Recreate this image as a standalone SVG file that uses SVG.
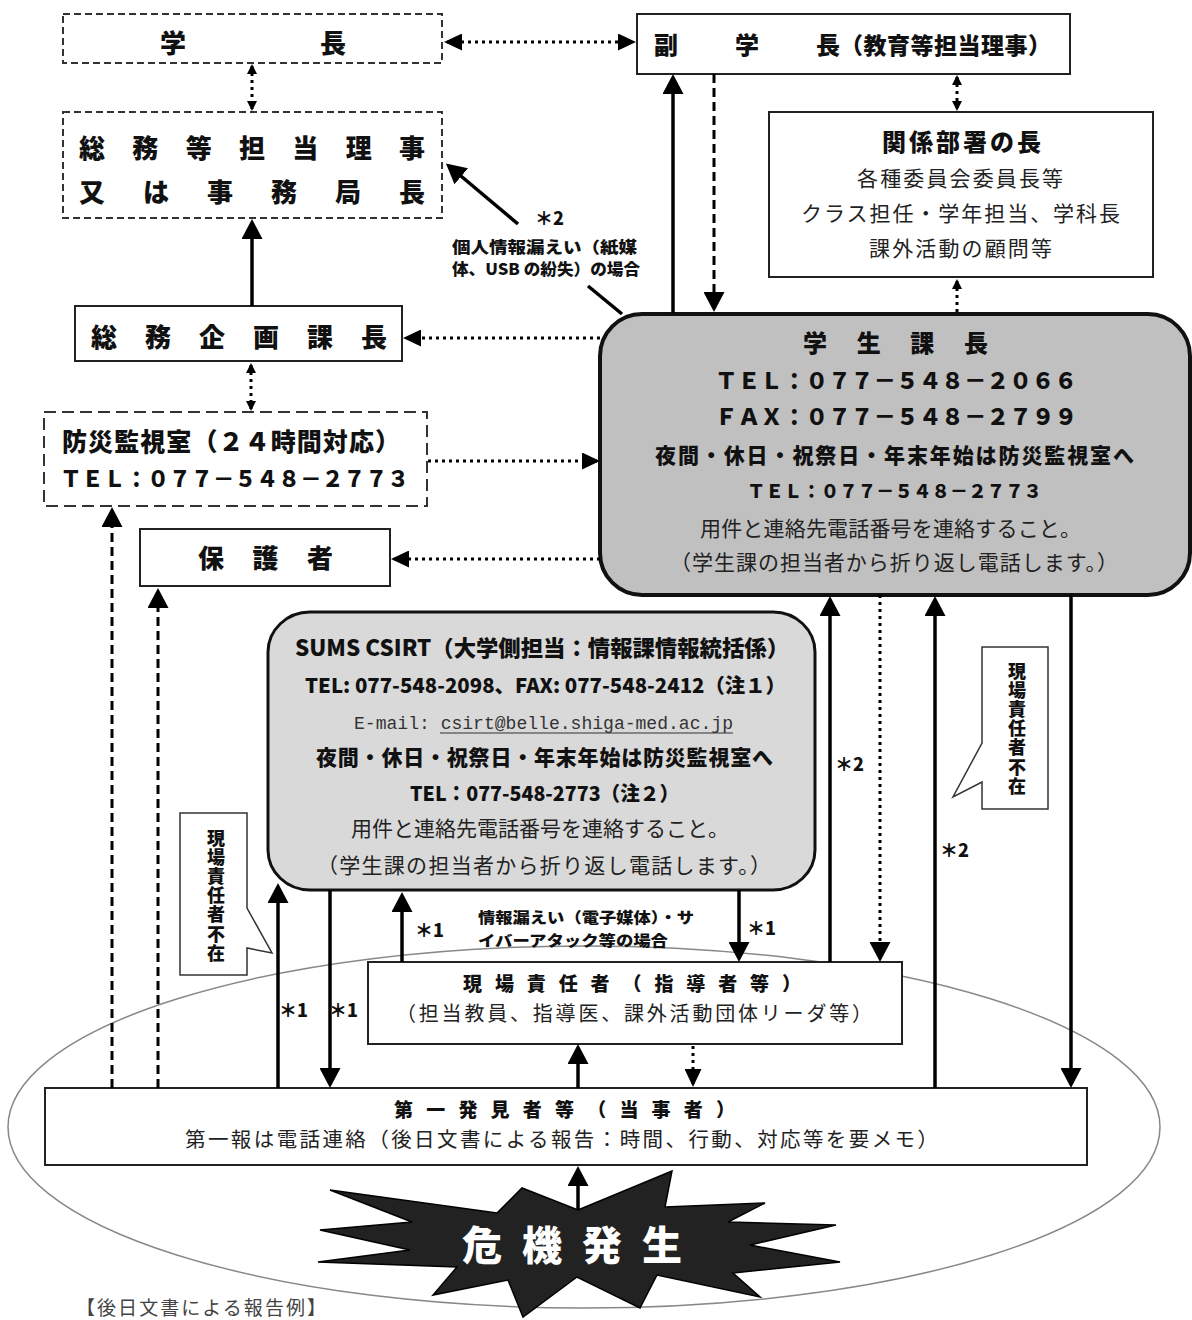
<svg xmlns="http://www.w3.org/2000/svg" width="1192" height="1320" viewBox="0 0 1192 1320">
<defs>
<style>
.b{font-family:"Noto Sans CJK JP","Noto Sans CJK SC",sans-serif;font-weight:900;fill:#111}
.r{font-family:"Noto Sans CJK JP","Noto Sans CJK SC",sans-serif;font-weight:400;fill:#222}
.m{font-family:"Liberation Mono",monospace;fill:#333}
.v{writing-mode:vertical-rl;font-family:"Noto Sans CJK JP","Noto Sans CJK SC",sans-serif;font-weight:900;fill:#111}
.box{fill:#fff;stroke:#222;stroke-width:2}
.dbox{fill:#fff;stroke:#333;stroke-width:2;stroke-dasharray:7 4}
.ln{stroke:#000;stroke-width:3.5;fill:none}
.dot{stroke:#000;stroke-width:3;stroke-dasharray:3 4;fill:none}
.dash{stroke:#000;stroke-width:3;stroke-dasharray:9 5;fill:none}
.call{fill:#fff;stroke:#333;stroke-width:1.5}
</style>
<marker id="al" viewBox="0 0 20 21" refX="16" refY="10.5" markerWidth="20" markerHeight="21" markerUnits="userSpaceOnUse" orient="auto-start-reverse"><path d="M0,0 L20,10.5 L0,21 Z" fill="#000"/></marker>
<marker id="am" viewBox="0 0 18 17" refX="15" refY="8.5" markerWidth="18" markerHeight="17" markerUnits="userSpaceOnUse" orient="auto-start-reverse"><path d="M0,0 L18,8.5 L0,17 Z" fill="#000"/></marker>
<marker id="as" viewBox="0 0 10 10" refX="8" refY="5" markerWidth="10" markerHeight="10" markerUnits="userSpaceOnUse" orient="auto-start-reverse"><path d="M0,0 L10,5 L0,10 Z" fill="#000"/></marker>
</defs>
<rect width="1192" height="1320" fill="#fff"/>

<g id="ellipse">
<ellipse cx="584" cy="1127" rx="576" ry="181" fill="none" stroke="#888" stroke-width="1.5"/>
</g>

<g id="gakucho">
<rect class="dbox" x="63" y="14" width="379" height="49"/>
<text class="b" x="160" y="53" font-size="26" textLength="186" lengthAdjust="spacing">学長</text>
</g>

<g id="fukugakucho">
<rect class="box" x="637" y="14" width="433" height="60"/>
<text class="b" x="654" y="54" font-size="24" textLength="186" lengthAdjust="spacing">副学長</text>
<text class="b" x="840" y="54" font-size="23" textLength="211" lengthAdjust="spacing">（教育等担当理事）</text>
</g>

<g id="somu-riji">
<rect class="dbox" x="63" y="112" width="379" height="106"/>
<text class="b" x="79" y="158" font-size="26" textLength="346" lengthAdjust="spacing">総務等担当理事</text>
<text class="b" x="79" y="202" font-size="26" textLength="346" lengthAdjust="spacing">又は事務局長</text>
</g>

<g id="kankei">
<rect class="box" x="769" y="112" width="384" height="165"/>
<text class="b" x="882" y="151" font-size="24" textLength="159" lengthAdjust="spacing">関係部署の長</text>
<text class="r" x="857" y="186" font-size="21" textLength="206" lengthAdjust="spacing">各種委員会委員長等</text>
<text class="r" x="801" y="221" font-size="21" textLength="319" lengthAdjust="spacing">クラス担任・学年担当、学科長</text>
<text class="r" x="869" y="256" font-size="21" textLength="183" lengthAdjust="spacing">課外活動の顧問等</text>
</g>

<g id="somukikaku">
<rect class="box" x="75" y="306" width="327" height="55"/>
<text class="b" x="91" y="347" font-size="26" textLength="296" lengthAdjust="spacing">総務企画課長</text>
</g>

<g id="gakusei">
<rect x="600" y="314" width="590" height="281" rx="42" ry="42" fill="#c0c0c0" stroke="#111" stroke-width="4"/>
<text class="b" x="803" y="352" font-size="24" textLength="185" lengthAdjust="spacing">学生課長</text>
<text class="b" x="715" y="389" font-size="22.6" textLength="362" lengthAdjust="spacing">ＴＥＬ：０７７－５４８－２０６６</text>
<text class="b" x="715" y="425" font-size="22.6" textLength="362" lengthAdjust="spacing">ＦＡＸ：０７７－５４８－２７９９</text>
<text class="b" x="655" y="463" font-size="21" textLength="479" lengthAdjust="spacing">夜間・休日・祝祭日・年末年始は防災監視室へ</text>
<text class="b" x="747" y="498" font-size="18.4" textLength="295" lengthAdjust="spacing">ＴＥＬ：０７７－５４８－２７７３</text>
<text class="r" x="700" y="536" font-size="21" textLength="381" lengthAdjust="spacing">用件と連絡先電話番号を連絡すること。</text>
<text class="r" x="670" y="570" font-size="21" textLength="448" lengthAdjust="spacing">（学生課の担当者から折り返し電話します。）</text>
</g>

<g id="bosai">
<rect x="44" y="412" width="383" height="94" fill="#fff" stroke="#333" stroke-width="2" stroke-dasharray="12 6"/>
<text class="b" x="62" y="451" font-size="25" textLength="338" lengthAdjust="spacing">防災監視室（２４時間対応）</text>
<text class="b" x="60" y="487" font-size="21.8" textLength="349" lengthAdjust="spacing">ＴＥＬ：０７７－５４８－２７７３</text>
</g>

<g id="hogosha">
<rect class="box" x="140" y="529" width="250" height="57"/>
<text class="b" x="198" y="568" font-size="26" textLength="135" lengthAdjust="spacing">保護者</text>
</g>

<g id="csirt">
<rect x="268" y="612" width="547" height="278" rx="42" ry="40" fill="#d9d9d9" stroke="#111" stroke-width="3"/>
<text class="b" x="295" y="656" font-size="22" textLength="494" lengthAdjust="spacingAndGlyphs">SUMS CSIRT（大学側担当：情報課情報統括係）</text>
<text class="b" x="305" y="693" font-size="20" textLength="481" lengthAdjust="spacingAndGlyphs">TEL: 077-548-2098、FAX: 077-548-2412（注１）</text>
<text class="m" x="354" y="729" font-size="18" textLength="379" lengthAdjust="spacingAndGlyphs">E-mail: csirt@belle.shiga-med.ac.jp</text>
<line x1="440" y1="733" x2="733" y2="733" stroke="#333" stroke-width="1.2"/>
<text class="b" x="316" y="765" font-size="21" textLength="457" lengthAdjust="spacing">夜間・休日・祝祭日・年末年始は防災監視室へ</text>
<text class="b" x="410" y="801" font-size="20" textLength="269" lengthAdjust="spacingAndGlyphs">TEL：077-548-2773（注２）</text>
<text class="r" x="351" y="836" font-size="21" textLength="378" lengthAdjust="spacing">用件と連絡先電話番号を連絡すること。</text>
<text class="r" x="317" y="873" font-size="21" textLength="454" lengthAdjust="spacing">（学生課の担当者から折り返し電話します。）</text>
</g>

<g id="callout-left">
<path class="call" d="M180,813 H247 V908 L272,953 L247,948 V975 H180 Z"/>
<text class="v" x="216" y="829" font-size="18" textLength="133" lengthAdjust="spacing">現場責任者不在</text>
</g>

<g id="callout-right">
<path class="call" d="M982,647 H1048 V809 H982 V782 L953,797 L982,743 Z"/>
<text class="v" x="1017" y="662" font-size="18" textLength="133" lengthAdjust="spacing">現場責任者不在</text>
</g>

<g id="genba">
<rect class="box" x="368" y="962" width="534" height="82"/>
<text class="b" x="463" y="991" font-size="19" textLength="338" lengthAdjust="spacing">現場責任者（指導者等）</text>
<text class="r" x="396" y="1021" font-size="20" textLength="476" lengthAdjust="spacing">（担当教員、指導医、課外活動団体リーダ等）</text>
</g>

<g id="daiichi">
<rect class="box" x="45" y="1088" width="1042" height="77"/>
<text class="b" x="394" y="1117" font-size="19" textLength="341" lengthAdjust="spacing">第一発見者等（当事者）</text>
<text class="r" x="185" y="1147" font-size="20.5" textLength="753" lengthAdjust="spacing">第一報は電話連絡（後日文書による報告：時間、行動、対応等を要メモ）</text>
</g>

<g id="connectors">
<path class="dot" d="M447,42 H633" marker-start="url(#am)" marker-end="url(#am)"/>
<path class="dot" d="M252,66 V109" marker-start="url(#as)" marker-end="url(#as)"/>
<path class="dot" d="M957,77 V109" marker-start="url(#as)" marker-end="url(#as)"/>
<path class="dot" d="M957,281 V313" marker-start="url(#as)"/>
<path class="ln" d="M673,313 V78" marker-end="url(#al)"/>
<path class="dash" d="M714,74 V308" marker-end="url(#al)"/>
<path class="ln" d="M622,314 L588,286"/>
<path class="ln" d="M518,224 L449,166" marker-end="url(#al)"/>
<path class="dot" d="M600,338 H406" marker-end="url(#am)"/>
<path class="ln" d="M252,306 V223" marker-end="url(#al)"/>
<path class="dot" d="M251,365 V409" marker-start="url(#as)" marker-end="url(#as)"/>
<path class="dot" d="M428,461 H597" marker-end="url(#am)"/>
<path class="dot" d="M600,559 H394" marker-end="url(#am)"/>
<path class="dash" d="M112,1088 V511" marker-end="url(#al)"/>
<path class="dash" d="M158,1088 V592" marker-end="url(#al)"/>
<path class="ln" d="M278,1088 V887" marker-end="url(#al)"/>
<path class="ln" d="M330,890 V1084" marker-end="url(#al)"/>
<path class="ln" d="M402,962 V896" marker-end="url(#al)"/>
<path class="ln" d="M739,890 V958" marker-end="url(#al)"/>
<path class="ln" d="M830,962 V600" marker-end="url(#al)"/>
<path class="dot" d="M880,595 V958" marker-end="url(#al)"/>
<path class="ln" d="M935,1088 V600" marker-end="url(#al)"/>
<path class="ln" d="M1071,595 V1084" marker-end="url(#al)"/>
<path class="ln" d="M578,1088 V1048" marker-end="url(#al)"/>
<path class="dot" d="M693,1046 V1084" marker-end="url(#am)"/>
<path class="ln" d="M578,1212 V1170" marker-end="url(#al)"/>
<text class="b" x="535" y="225" font-size="18">＊2</text>
<text class="b" x="452" y="253" font-size="16" textLength="185" lengthAdjust="spacingAndGlyphs">個人情報漏えい（紙媒</text>
<text class="b" x="452" y="275" font-size="16" textLength="188" lengthAdjust="spacingAndGlyphs">体、USB の紛失）の場合</text>
<text class="b" x="478" y="923" font-size="15" textLength="216" lengthAdjust="spacingAndGlyphs">情報漏えい（電子媒体）・サ</text>
<text class="b" x="478" y="946" font-size="15" textLength="190" lengthAdjust="spacingAndGlyphs">イバーアタック等の場合</text>
<text class="b" x="279" y="1017" font-size="18">＊1</text>
<text class="b" x="329" y="1017" font-size="18">＊1</text>
<text class="b" x="415" y="937" font-size="18">＊1</text>
<text class="b" x="747" y="935" font-size="18">＊1</text>
<text class="b" x="835" y="771" font-size="18">＊2</text>
<text class="b" x="940" y="857" font-size="18">＊2</text>
</g>

<g id="kiki">
<polygon points="578,1210 672,1171 665,1207 765,1203 728,1222 836,1225 750,1245 840,1262 733,1273 760,1297 657,1275 640,1308 577,1277 523,1317 508,1280 433,1295 457,1267 318,1262 410,1250 320,1230 412,1222 330,1190 497,1213 522,1188" fill="#222" stroke="#000" stroke-width="1.5" stroke-linejoin="miter"/>
<text class="b" x="462" y="1260" font-size="40" textLength="220" lengthAdjust="spacing" style="fill:#fff">危機発生</text>
</g>

<g id="note">
<text class="r" x="76" y="1315" font-size="19" textLength="250" lengthAdjust="spacing" style="fill:#444">【後日文書による報告例】</text>
</g>
</svg>
